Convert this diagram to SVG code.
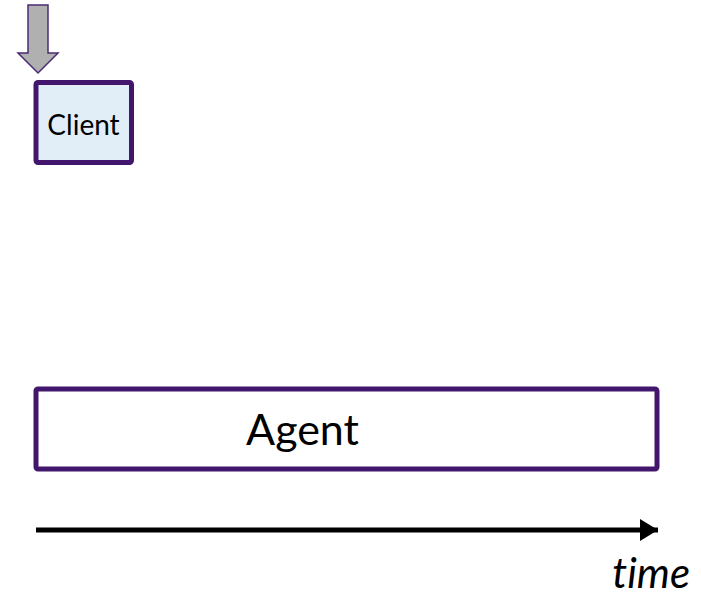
<svg xmlns="http://www.w3.org/2000/svg" width="701" height="598" viewBox="0 0 701 598">
  <defs>
    <style>
      .box { stroke: #43166e; stroke-width: 5; }
      .lbl { font-family: Lato, "Liberation Sans", sans-serif; fill: #000; text-anchor: middle; }
      .axis { font-family: Lato, "Liberation Sans", sans-serif; font-style: italic; font-variant-ligatures: none; fill: #000; text-anchor: end; }
    </style>
    <marker id="head" markerUnits="userSpaceOnUse" markerWidth="20" markerHeight="22" refX="18" refY="11" orient="auto">
      <path d="M0,0 L18,11 L0,22 Z" fill="#000"/>
    </marker>
  </defs>
  <rect width="701" height="598" fill="#fff"/>

  <!-- incoming request arrow -->
  <g id="request-arrow">
    <path d="M28,5 H48 V53 H58 L38,73 L18,53 H28 Z" fill="#b0b0b0" stroke="#4b2a74" stroke-width="1.5" stroke-linejoin="miter"/>
  </g>

  <g id="client">
    <rect class="box" x="36" y="82.5" width="95.5" height="80" rx="2" fill="#e1eef8"/>
    <text class="lbl" x="83.5" y="135" font-size="28">Client</text>
  </g>

  <g id="agent">
    <rect class="box" x="36" y="389" width="621" height="80" rx="2" fill="#fff"/>
    <text class="lbl" x="302.5" y="445" font-size="43">Agent</text>
  </g>

  <g id="connectors">
    <line x1="36" y1="530" x2="658" y2="530" stroke="#000" stroke-width="5" marker-end="url(#head)"/>
  </g>

  <text class="axis" x="690" y="588" font-size="42">time</text>
</svg>
